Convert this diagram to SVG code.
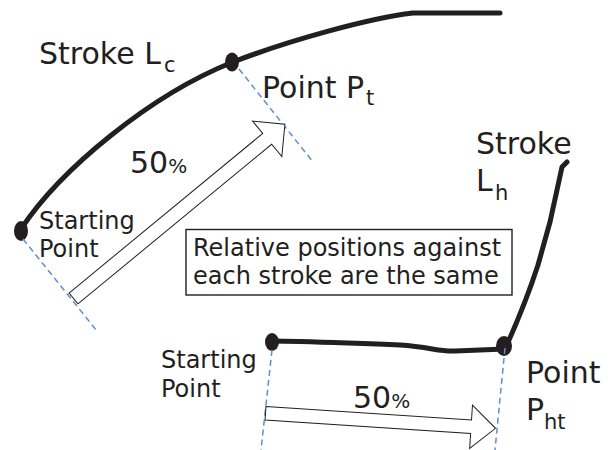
<svg xmlns="http://www.w3.org/2000/svg" width="610" height="450" viewBox="0 0 610 450">
  <style>
    text { font-family: "DejaVu Sans", "Liberation Sans", sans-serif; fill: #231f20; }
    .big { font-size: 30px; }
    .mid { font-size: 24px; }
    .sub { font-size: 21px; }
    .pct { font-size: 20px; }
    .stroke { fill: none; stroke: #231f20; stroke-width: 5; stroke-linecap: round; stroke-linejoin: round; }
    .dot { fill: #231f20; }
    .guide { fill: none; stroke: #5b8fd0; stroke-width: 1.5; stroke-dasharray: 6 4; }
    .arrow { fill: #ffffff; stroke: #231f20; stroke-width: 1; stroke-linejoin: miter; }
    .box { fill: #ffffff; stroke: #231f20; stroke-width: 1.4; }
  </style>

  <!-- Upper stroke L_c -->
  <g id="stroke-lc">
    <path class="stroke" d="M21,229 C60,170 150,95 233,62 C290,40 370,18 413,13 L500,13"/>
    <ellipse class="dot" cx="21" cy="231" rx="7" ry="10"/>
    <ellipse class="dot" cx="232" cy="62" rx="7" ry="9.5"/>
    <text class="big" x="39" y="64">Stroke L</text>
    <text class="sub" x="164" y="72">c</text>
  </g>

  <!-- Lower stroke L_h -->
  <g id="stroke-lh">
    <path class="stroke" d="M272,341 C300,341 340,343 400,345 C430,347 440,352 455,351 L480,350 L505,349 Q525,305 538,265 L550,222 L557,190 L562,167 L567,162"/>
    <ellipse class="dot" cx="272" cy="342" rx="7" ry="9"/>
    <ellipse class="dot" cx="504" cy="346" rx="8" ry="10"/>
    <text class="big" x="476" y="154">Stroke</text>
    <text class="big" x="476" y="191">L</text>
    <text class="sub" x="495" y="200">h</text>
  </g>

  <!-- Labels -->
  <g id="label-start-upper">
    <text class="mid" x="39" y="229">Starting</text>
    <text class="mid" x="39" y="257">Point</text>
  </g>
  <g id="label-pt">
    <text class="big" x="262" y="98">Point P</text>
    <text class="sub" x="366" y="105">t</text>
  </g>
  <g id="label-start-lower">
    <text class="mid" x="161" y="368">Starting</text>
    <text class="mid" x="161" y="397">Point</text>
  </g>
  <g id="label-pht">
    <text class="big" x="526" y="383">Point</text>
    <text class="big" x="526" y="420">P</text>
    <text class="sub" x="544" y="429">ht</text>
  </g>

  <!-- Note box -->
  <g id="note">
    <rect class="box" x="186" y="229.5" width="326" height="65.5"/>
    <text class="mid" x="193" y="256">Relative positions against</text>
    <text class="mid" x="193" y="284">each stroke are the same</text>
  </g>

  <!-- Connectors: guides and 50% arrows -->
  <g id="connectors">
    <line class="guide" x1="23" y1="239" x2="97" y2="331"/>
    <line class="guide" x1="239" y1="69" x2="313" y2="162"/>
    <line class="guide" x1="272" y1="350" x2="261" y2="450"/>
    <line class="guide" x1="505" y1="348" x2="495" y2="450"/>

    <polygon class="arrow" transform="translate(73.5,298.5) rotate(-39.5)" points="0,-7 251,-7 251,-23 274,0 251,23 251,7 0,7"/>
    <polygon class="arrow" transform="translate(265.5,413.3) rotate(3.73)" points="0,-6.7 206,-6.7 206,-21.7 230.5,0 206,21.7 206,6.7 0,6.7"/>

    <text class="big" x="130" y="173">50<tspan class="pct">%</tspan></text>
    <text class="big" x="353" y="408">50<tspan class="pct">%</tspan></text>
  </g>
</svg>
